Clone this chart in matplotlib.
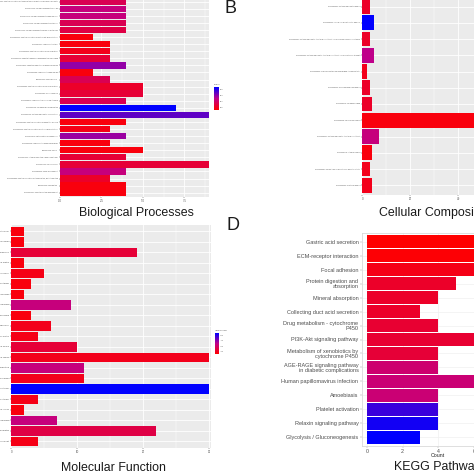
import numpy as np
import matplotlib
matplotlib.use('Agg')
from matplotlib import pyplot as plt
from matplotlib.colors import LinearSegmentedColormap

plt.rcParams['font.family'] = ['Liberation Sans', 'DejaVu Sans']

# ---- data (top to bottom as shown) ----
bp_terms = [
    "GO:0045944~positive regulation of transcription from RNA polymerase II promoter",
    "GO:0071294~cellular response to zinc ion",
    "GO:0071276~cellular response to cadmium ion",
    "GO:0071248~cellular response to metal ion",
    "GO:0071230~cellular response to amino acid stimulus",
    "GO:0045669~positive regulation of osteoblast differentiation",
    "GO:0051591~response to cAMP",
    "GO:0030335~positive regulation of cell migration",
    "GO:0034446~substrate adhesion-dependent cell spreading",
    "GO:0010629~negative regulation of gene expression",
    "GO:0046686~response to cadmium ion",
    "GO:0001525~angiogenesis",
    "GO:0008284~positive regulation of cell proliferation",
    "GO:0042060~wound healing",
    "GO:0009612~response to mechanical stimulus",
    "GO:0030199~collagen fibril organization",
    "GO:0030198~extracellular matrix organization",
    "GO:0043065~positive regulation of apoptotic process",
    "GO:0045600~positive regulation of fat cell differentiation",
    "GO:0010273~detoxification of copper ion",
    "GO:0032496~response to lipopolysaccharide",
    "GO:0007568~aging",
    "GO:0007229~integrin-mediated signaling pathway",
    "GO:0007155~cell adhesion",
    "GO:0060348~bone development",
    "GO:0045893~positive regulation of transcription, DNA-templated",
    "GO:0001503~ossification",
    "GO:0001501~skeletal system development",
]
bp_count = [4, 4, 4, 4, 4, 2, 3, 3, 3, 4, 2, 3, 5, 5, 4, 7, 9, 4, 3, 4, 3, 5, 4, 9, 4, 3, 4, 4]
bp_p = [0.3, 0.45, 0.45, 0.3, 0.25, 0.05, 0.05, 0.1, 0.2, 0.62, 0.05, 0.3, 0.15, 0.2, 0.3,
        1.0, 0.75, 0.05, 0.08, 0.6, 0.05, 0.05, 0.2, 0.2, 0.45, 0.15, 0.05, 0.05]

cc_terms = [
    "GO:0050840~extracellular matrix binding",
    "GO:0005520~insulin-like growth factor binding",
    "GO:0030021~extracellular matrix structural constituent conferring compression resistance",
    "GO:0030020~extracellular matrix structural constituent conferring tensile strength",
    "GO:0008900~hydrogen:potassium-exchanging ATPase activity",
    "GO:0005539~glycosaminoglycan binding",
    "GO:0005518~collagen binding",
    "GO:0005509~calcium ion binding",
    "GO:0005201~extracellular matrix structural constituent",
    "GO:0005178~integrin binding",
    "GO:0004867~serine-type endopeptidase inhibitor activity",
    "GO:0002020~protease binding",
]
cc_count = [3, 5, 3, 5, 2, 3, 4, 50, 7, 4, 3, 4]
cc_p = [0.15, 1.0, 0.15, 0.5, 0.1, 0.15, 0.15, 0.05, 0.45, 0.05, 0.1, 0.1]

mf_terms = [
    "GO:0005783~endoplasmic reticulum",
    "GO:0005788~endoplasmic reticulum lumen",
    "GO:0005886~plasma membrane",
    "GO:0031012~extracellular matrix",
    "GO:0009986~cell surface",
    "GO:0005581~collagen trimer",
    "GO:0016324~apical plasma membrane",
    "GO:0005604~basement membrane",
    "GO:0070062~extracellular exosome",
    "GO:0005925~focal adhesion",
    "GO:0005578~proteinaceous extracellular matrix",
    "GO:0005615~extracellular space",
    "GO:0005576~extracellular region",
    "GO:0072562~blood microparticle",
    "GO:0031093~platelet alpha granule lumen",
    "GO:0005583~fibrillar collagen trimer",
    "GO:0005584~collagen type I trimer",
    "GO:0043202~lysosomal lumen",
    "GO:0016323~basolateral plasma membrane",
    "GO:0005794~Golgi apparatus",
    "GO:0045121~membrane raft",
]
mf_count = [2, 2, 19, 2, 5, 3, 2, 9, 3, 6, 4, 10, 30, 11, 11, 30, 4, 2, 7, 22, 4]
mf_p = [0.05, 0.05, 0.2, 0.05, 0.08, 0.05, 0.05, 0.45, 0.05, 0.1, 0.08, 0.2, 0.1, 0.45, 0.1,
        1.0, 0.08, 0.05, 0.45, 0.25, 0.08]

kegg_terms = [
    "Gastric acid secretion",
    "ECM-receptor interaction",
    "Focal adhesion",
    "Protein digestion and\nabsorption",
    "Mineral absorption",
    "Collecting duct acid secretion",
    "Drug metabolism - cytochrome\nP450",
    "PI3K-Akt signaling pathway",
    "Metabolism of xenobiotics by\ncytochrome P450",
    "AGE-RAGE signaling pathway\nin diabetic complications",
    "Human papillomavirus infection",
    "Amoebiasis",
    "Platelet activation",
    "Relaxin signaling pathway",
    "Glycolysis / Gluconeogenesis",
]
kegg_count = [7, 7, 7, 5, 4, 3, 4, 8, 4, 4, 8, 4, 4, 4, 3]
kegg_p = [0.0, 0.02, 0.08, 0.15, 0.15, 0.15, 0.18, 0.18, 0.2, 0.4, 0.42, 0.42, 0.85, 0.95, 1.0]

cmap = LinearSegmentedColormap.from_list('rb', ['#ff0000', '#c0008a', '#0000ff'])
W = H = 474
TXT = '#4d4d4d'

fig = plt.figure(figsize=(4.74, 4.74), dpi=100)


def px_axes(left, top, right, bottom):
    # axes placed in pixel coordinates measured from the top-left corner
    return fig.add_axes([left / W, 1 - bottom / H, (right - left) / W, (bottom - top) / H])


def ftext(x, y, s, **kw):
    fig.text(x / W, 1 - y / H, s, **kw)


def gg_bars(ax, terms, counts, pvals, xmax, ytop, xticks, xticklabels, lab_size, tick_size, step):
    n = len(terms)
    y = np.arange(n)[::-1]
    ax.set_facecolor('#ebebeb')
    ax.barh(y, counts, height=0.9, color=cmap(np.array(pvals)), zorder=3)
    ax.set_xlim(0, xmax)
    ax.set_ylim(-0.6, ytop)
    ax.set_yticks(y)
    ax.set_yticklabels(terms, fontsize=lab_size, color=TXT)
    ax.set_xticks(xticks)
    ax.set_xticklabels(xticklabels, fontsize=tick_size, color=TXT)
    minor = np.arange(step / 2, xmax, step)
    ax.set_xticks(minor, minor=True)
    ax.grid(True, which='major', color='white', lw=0.6, zorder=0)
    ax.grid(True, which='minor', axis='x', color='white', lw=0.3, zorder=0)
    ax.tick_params(which='both', length=0.8, width=0.3, color='#333333', pad=0.8)
    ax.tick_params(which='minor', length=0)
    for s in ax.spines.values():
        s.set_visible(False)


def gradient_bar(left, top, right, bottom, title, labels):
    cax = px_axes(left, top, right, bottom)
    cax.imshow(np.linspace(1, 0, 100).reshape(-1, 1), aspect='auto', cmap=cmap, vmin=0, vmax=1)
    cax.set_xticks([])
    cax.set_yticks([])
    for s in cax.spines.values():
        s.set_visible(False)
    ftext(left, top - 2, title, fontsize=1.5, color=TXT, va='bottom')
    for i, lab in enumerate(labels):
        yy = top + 2 + i * (bottom - top - 4) / (len(labels) - 1)
        ftext(right + 1, yy, lab, fontsize=1.3, color=TXT, va='center')


# A: Biological Processes
axA = px_axes(60, 0, 209.3, 196.9)
gg_bars(axA, bp_terms, bp_count, bp_p, 9.0, 27.25, [0, 2.5, 5, 7.5],
        ['0.0', '2.5', '5.0', '7.5'], 1.3, 2.0, 2.5)
gradient_bar(214, 87, 219, 110, 'PValue', ['0.04', '0.03', '0.02', '0.01'])

# B: Cellular Composition
axB = px_axes(362.3, 0, 620, 195.0)
gg_bars(axB, cc_terms, cc_count, cc_p, (620 - 362.3) / 2.4, 11.4, [0, 20, 40],
        ['0', '20', '40'], 1.3, 2.0, 20)

# C: Molecular Function
axC = px_axes(11.3, 225, 211, 447.6)
gg_bars(axC, mf_terms, mf_count, mf_p, 30.3, 20.6, [0, 10, 20, 30],
        ['0', '10', '20', '30'], 1.6, 2.0, 10)
gradient_bar(215, 333, 219, 354, 'log10(PValue)', ['-20.0', '-17.5', '-15.0', '-12.5'])

# D: KEGG Pathway
axD = px_axes(361.5, 233.3, 620, 445.7)
n = len(kegg_terms)
yD = np.arange(n)[::-1]
axD.set_facecolor('white')
axD.barh(yD, kegg_count, height=0.9, color=cmap(np.array(kegg_p)), zorder=3)
axD.set_xlim(-(367 - 361.5) / 17.8, (620 - 367) / 17.8)
axD.set_ylim(-0.6, n - 0.4)
axD.set_yticks(yD)
axD.set_yticklabels(kegg_terms, fontsize=4.0, color=TXT, linespacing=1.0)
axD.set_xticks([0, 2, 4, 6])
axD.set_xticklabels(['0', '2', '4', '6'], fontsize=3.8, color=TXT)
axD.set_xlabel('Count', fontsize=3.8, color='#222222', labelpad=1)
axD.xaxis.set_label_coords((438 - 361.5) / (620 - 361.5), -0.035)
axD.grid(True, color='#f0f0f0', lw=0.5, zorder=0)
axD.tick_params(length=1.2, width=0.3, color='#999999', pad=1)
for s in axD.spines.values():
    s.set_color('#d9d9d9')
    s.set_linewidth(0.6)

# titles and panel letters
ftext(136, 216, 'Biological Processes', fontsize=8.9, color='#1a1a1a', ha='center', va='baseline')
ftext(379, 216, 'Cellular Composition', fontsize=8.9, color='#1a1a1a', ha='left', va='baseline')
ftext(113, 471, 'Molecular Function', fontsize=8.9, color='#1a1a1a', ha='center', va='baseline')
ftext(394, 470, 'KEGG Pathway', fontsize=8.9, color='#1a1a1a', ha='left', va='baseline')
ftext(225, 13, 'B', fontsize=13, color='#1a1a1a', ha='left', va='baseline')
ftext(226, 230, 'D', fontsize=13, color='#1a1a1a', ha='left', va='baseline')

fig.savefig('out.png', dpi=100)
